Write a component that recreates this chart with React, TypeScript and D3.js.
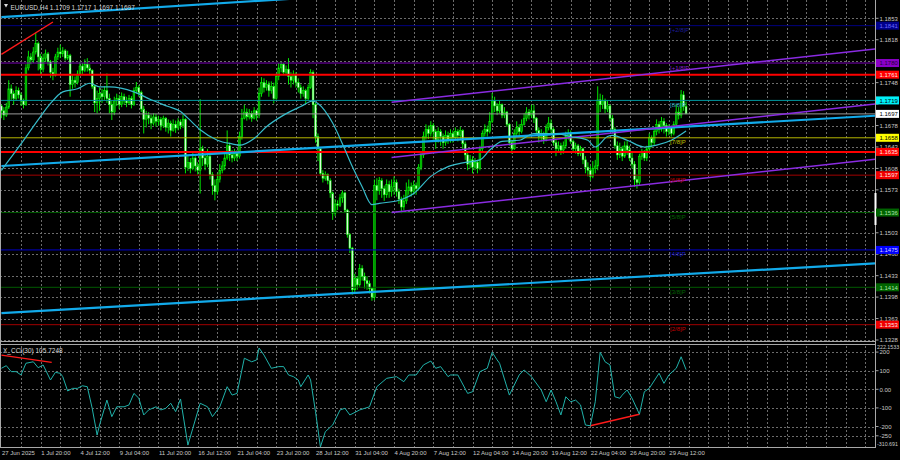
import * as d3 from "d3";

// ---------- price data (EURUSD H4), one value per bar ----------
const firstOpen = 1.171;

// closes, bars 0..279
const closes = [
  1.1702, 1.1695, 1.1708, 1.1738, 1.1730, 1.1722, 1.1735, 1.1728, 1.1718, 1.1712,
  1.1772, 1.1790, 1.1785, 1.1798, 1.1812, 1.1790, 1.1770, 1.1788, 1.1795, 1.1782,
  1.1765, 1.1760, 1.1790, 1.1798, 1.1795, 1.1800, 1.1788, 1.1792, 1.1745, 1.1752,
  1.1748, 1.1762, 1.1775, 1.1768, 1.1778, 1.1772, 1.1768, 1.1742, 1.1715, 1.1722,
  1.1730, 1.1725, 1.1735, 1.1722, 1.1712, 1.1700, 1.1718, 1.1722, 1.1712, 1.1725,
  1.1718, 1.1715, 1.1722, 1.1712, 1.1735, 1.1740, 1.1732, 1.1705, 1.1688, 1.1695,
  1.1690, 1.1682, 1.1692, 1.1685, 1.1688, 1.1678, 1.1690, 1.1675, 1.1682, 1.1670,
  1.1680, 1.1674, 1.1684, 1.1678, 1.1688, 1.1610, 1.1618, 1.1608, 1.1625, 1.1612,
  1.1605, 1.1640, 1.1625, 1.1615, 1.1628, 1.1598, 1.1580, 1.1570, 1.1590, 1.1605,
  1.1612, 1.1625, 1.1645, 1.1630, 1.1625, 1.1632, 1.1628, 1.1660, 1.1690, 1.1700,
  1.1692, 1.1698, 1.1690, 1.1702, 1.1695, 1.1730, 1.1748, 1.1740, 1.1745, 1.1735,
  1.1742, 1.1722, 1.1758, 1.1772, 1.1778, 1.1765, 1.1770, 1.1758, 1.1752, 1.1762,
  1.1748, 1.1740, 1.1730, 1.1735, 1.1722, 1.1740, 1.1765, 1.1712, 1.1660, 1.1640,
  1.1600, 1.1592, 1.1598, 1.1588, 1.1568, 1.1535, 1.1550, 1.1548, 1.1560, 1.1568,
  1.1540, 1.1500, 1.1478, 1.1410, 1.1428, 1.1418, 1.1445, 1.1432, 1.1425, 1.1420,
  1.1412, 1.1398, 1.1580, 1.1572, 1.1588, 1.1575, 1.1565, 1.1582, 1.1570, 1.1578,
  1.1585, 1.1570, 1.1558, 1.1545, 1.1555, 1.1572, 1.1578, 1.1570, 1.1580, 1.1575,
  1.1610, 1.1630, 1.1660, 1.1672, 1.1665, 1.1678, 1.1668, 1.1655, 1.1668, 1.1660,
  1.1650, 1.1662, 1.1655, 1.1665, 1.1658, 1.1668, 1.1662, 1.1670, 1.1648, 1.1630,
  1.1615, 1.1622, 1.1610, 1.1618, 1.1608, 1.1640, 1.1665, 1.1672, 1.1668, 1.1685,
  1.1718, 1.1710, 1.1702, 1.1712, 1.1695, 1.1700, 1.1680, 1.1650, 1.1640, 1.1665,
  1.1675, 1.1668, 1.1680, 1.1690, 1.1700, 1.1695, 1.1702, 1.1690, 1.1670, 1.1660,
  1.1665, 1.1655, 1.1675, 1.1682, 1.1672, 1.1650, 1.1640, 1.1645, 1.1638, 1.1645,
  1.1660, 1.1665, 1.1652, 1.1640, 1.1645, 1.1632, 1.1640, 1.1622, 1.1610, 1.1605,
  1.1595, 1.1608, 1.1612, 1.1720, 1.1712, 1.1718, 1.1705, 1.1710, 1.1690, 1.1672,
  1.1645, 1.1630, 1.1640, 1.1628, 1.1645, 1.1638, 1.1625, 1.1615, 1.1590, 1.1585,
  1.1628, 1.1635, 1.1625, 1.1640, 1.1658, 1.1650, 1.1668, 1.1680, 1.1672, 1.1685,
  1.1678, 1.1668, 1.1675, 1.1665, 1.1680, 1.1700, 1.1695, 1.1728, 1.1709, 1.1697,
];

const highs = [
  1.1712, 1.1708, 1.1715, 1.1752, 1.1745, 1.1735, 1.1742, 1.1740, 1.1732, 1.1722,
  1.1778, 1.1800, 1.1796, 1.1806, 1.1829, 1.1815, 1.1795, 1.1795, 1.1802, 1.1798,
  1.1785, 1.1772, 1.1795, 1.1805, 1.1810, 1.1806, 1.1803, 1.1800, 1.1795, 1.1760,
  1.1758, 1.1768, 1.1782, 1.1780, 1.1786, 1.1788, 1.1778, 1.1770, 1.1745, 1.1735,
  1.1740, 1.1738, 1.1742, 1.1763, 1.1730, 1.1718, 1.1725, 1.1730, 1.1728, 1.1732,
  1.1730, 1.1725, 1.1728, 1.1726, 1.1740, 1.1749, 1.1744, 1.1735, 1.1710, 1.1702,
  1.1700, 1.1696, 1.1698, 1.1697, 1.1694, 1.1692, 1.1694, 1.1692, 1.1688, 1.1686,
  1.1688, 1.1686, 1.1690, 1.1688, 1.1695, 1.1690, 1.1630, 1.1625, 1.1633, 1.1628,
  1.1618, 1.1721, 1.1645, 1.1632, 1.1640, 1.1630, 1.1602, 1.1590, 1.1600, 1.1615,
  1.1620, 1.1632, 1.1670, 1.1650, 1.1638, 1.1640, 1.1638, 1.1668, 1.1705, 1.1712,
  1.1706, 1.1705, 1.1702, 1.1708, 1.1704, 1.1740, 1.1757, 1.1755, 1.1752, 1.1750,
  1.1750, 1.1748, 1.1763, 1.1780, 1.1782, 1.1780, 1.1776, 1.1788, 1.1765, 1.1768,
  1.1765, 1.1755, 1.1745, 1.1742, 1.1738, 1.1745, 1.1770, 1.1768, 1.1715, 1.1665,
  1.1640, 1.1605, 1.1603, 1.1600, 1.1592, 1.1570, 1.1558, 1.1556, 1.1566, 1.1572,
  1.1570, 1.1542, 1.1502, 1.1480, 1.1436, 1.1432, 1.1452, 1.1450, 1.1438, 1.1432,
  1.1425, 1.1412, 1.1590, 1.1592, 1.1594, 1.1592, 1.1580, 1.1590, 1.1588, 1.1590,
  1.1595, 1.1590, 1.1575, 1.1562, 1.1565, 1.1585, 1.1590, 1.1585, 1.1588, 1.1585,
  1.1615, 1.1635, 1.1668, 1.1680, 1.1678, 1.1685, 1.1682, 1.1672, 1.1675, 1.1672,
  1.1665, 1.1670, 1.1668, 1.1672, 1.1670, 1.1675, 1.1672, 1.1676, 1.1672, 1.1652,
  1.1635, 1.1630, 1.1628, 1.1625, 1.1622, 1.1645, 1.1670, 1.1680, 1.1678, 1.1700,
  1.1731, 1.1725, 1.1715, 1.1718, 1.1714, 1.1708, 1.1702, 1.1682, 1.1655, 1.1672,
  1.1685, 1.1680, 1.1688, 1.1698, 1.1708, 1.1705, 1.1712, 1.1712, 1.1692, 1.1675,
  1.1672, 1.1668, 1.1680, 1.1692, 1.1688, 1.1675, 1.1655, 1.1652, 1.1650, 1.1652,
  1.1668, 1.1672, 1.1670, 1.1655, 1.1650, 1.1648, 1.1645, 1.1642, 1.1628, 1.1618,
  1.1612, 1.1620, 1.1622, 1.1742, 1.1730, 1.1728, 1.1722, 1.1718, 1.1712, 1.1695,
  1.1675, 1.1652, 1.1650, 1.1645, 1.1652, 1.1654, 1.1645, 1.1635, 1.1620, 1.1598,
  1.1632, 1.1640, 1.1638, 1.1645, 1.1665, 1.1662, 1.1672, 1.1688, 1.1685, 1.1692,
  1.1690, 1.1682, 1.1680, 1.1678, 1.1685, 1.1712, 1.1708, 1.1736, 1.1734, 1.1717,
];

const lows = [
  1.1690, 1.1687, 1.1692, 1.1705, 1.1720, 1.1712, 1.1718, 1.1722, 1.1710, 1.1706,
  1.1710, 1.1768, 1.1778, 1.1780, 1.1794, 1.1768, 1.1762, 1.1765, 1.1782, 1.1776,
  1.1756, 1.1752, 1.1758, 1.1785, 1.1788, 1.1790, 1.1784, 1.1785, 1.1725, 1.1738,
  1.1740, 1.1745, 1.1760, 1.1762, 1.1765, 1.1766, 1.1760, 1.1738, 1.1700, 1.1698,
  1.1702, 1.1715, 1.1720, 1.1715, 1.1698, 1.1687, 1.1695, 1.1710, 1.1705, 1.1708,
  1.1712, 1.1708, 1.1712, 1.1706, 1.1710, 1.1730, 1.1725, 1.1700, 1.1665, 1.1675,
  1.1680, 1.1672, 1.1678, 1.1676, 1.1678, 1.1670, 1.1674, 1.1668, 1.1665, 1.1660,
  1.1668, 1.1666, 1.1670, 1.1672, 1.1674, 1.1600, 1.1604, 1.1600, 1.1605, 1.1603,
  1.1598, 1.1567, 1.1612, 1.1605, 1.1610, 1.1590, 1.1565, 1.1556, 1.1565, 1.1585,
  1.1600, 1.1605, 1.1622, 1.1620, 1.1618, 1.1620, 1.1620, 1.1624, 1.1655, 1.1688,
  1.1686, 1.1688, 1.1684, 1.1688, 1.1686, 1.1690, 1.1725, 1.1732, 1.1735, 1.1725,
  1.1730, 1.1714, 1.1720, 1.1752, 1.1765, 1.1760, 1.1760, 1.1745, 1.1740, 1.1745,
  1.1740, 1.1732, 1.1722, 1.1725, 1.1714, 1.1718, 1.1738, 1.1690, 1.1650, 1.1620,
  1.1596, 1.1585, 1.1588, 1.1582, 1.1560, 1.1524, 1.1530, 1.1540, 1.1545, 1.1552,
  1.1535, 1.1495, 1.1470, 1.1402, 1.1404, 1.1410, 1.1415, 1.1425, 1.1412, 1.1410,
  1.1404, 1.1392, 1.1393, 1.1556, 1.1565, 1.1560, 1.1555, 1.1560, 1.1560, 1.1562,
  1.1565, 1.1562, 1.1550, 1.1535, 1.1540, 1.1550, 1.1565, 1.1562, 1.1565, 1.1565,
  1.1572, 1.1605, 1.1625, 1.1655, 1.1656, 1.1660, 1.1655, 1.1640, 1.1650, 1.1645,
  1.1640, 1.1645, 1.1648, 1.1650, 1.1650, 1.1655, 1.1652, 1.1655, 1.1640, 1.1622,
  1.1605, 1.1608, 1.1600, 1.1605, 1.1600, 1.1605, 1.1635, 1.1660, 1.1660, 1.1665,
  1.1682, 1.1700, 1.1695, 1.1698, 1.1690, 1.1690, 1.1676, 1.1645, 1.1632, 1.1638,
  1.1660, 1.1660, 1.1665, 1.1678, 1.1685, 1.1688, 1.1690, 1.1682, 1.1665, 1.1650,
  1.1652, 1.1648, 1.1652, 1.1670, 1.1666, 1.1645, 1.1628, 1.1635, 1.1630, 1.1632,
  1.1640, 1.1655, 1.1648, 1.1635, 1.1632, 1.1628, 1.1628, 1.1615, 1.1600, 1.1595,
  1.1588, 1.1592, 1.1600, 1.1605, 1.1700, 1.1705, 1.1698, 1.1700, 1.1685, 1.1665,
  1.1640, 1.1622, 1.1625, 1.1620, 1.1625, 1.1630, 1.1620, 1.1608, 1.1578, 1.1575,
  1.1580, 1.1622, 1.1620, 1.1620, 1.1635, 1.1642, 1.1645, 1.1662, 1.1665, 1.1668,
  1.1665, 1.1660, 1.1662, 1.1660, 1.1662, 1.1676, 1.1688, 1.1690, 1.1702, 1.1697,
];

// moving average, read at selected bars
const maBars = [
  0, 8, 16, 20, 25, 31, 36, 40, 44, 54, 61, 68, 73, 76, 81, 88, 94, 97, 103, 108,
  115, 122, 127, 129, 135, 139, 143, 147, 151, 154, 162, 168, 175, 182, 188, 195, 199, 204, 211, 217,
  225, 232, 239, 242, 247, 249, 255, 262, 267, 273, 279,
];
const maValues = [
  1.1605, 1.1648, 1.1693, 1.1714, 1.1733, 1.1738, 1.1747, 1.1741, 1.1741, 1.1733,
  1.172, 1.1709, 1.1701, 1.169, 1.1671, 1.1654, 1.1648, 1.1646, 1.1657, 1.1676,
  1.1695, 1.1709, 1.1718, 1.1714, 1.1682, 1.1648, 1.1611, 1.1578, 1.1549, 1.1551,
  1.1556, 1.1567, 1.1595, 1.1611, 1.1617, 1.1622, 1.1638, 1.1652, 1.1654, 1.1665,
  1.1665, 1.166, 1.1654, 1.1643, 1.166, 1.1662, 1.1654, 1.1643, 1.1646, 1.1654, 1.1669,
];

// CCI(30), read at selected bars
const cciBars = [
  0, 2, 4, 6, 8, 10, 13, 15, 17, 20, 22, 24, 25, 27, 29, 31, 33, 35, 37, 39,
  40, 43, 45, 47, 50, 52, 54, 56, 58, 60, 63, 65, 67, 69, 71, 73, 76, 78, 81, 84,
  86, 89, 92, 94, 96, 99, 102, 104, 105, 107, 110, 113, 115, 117, 119, 121, 122, 125, 126, 128,
  130, 132, 135, 138, 140, 142, 146, 150, 153, 157, 161, 164, 166, 169, 172, 175, 177, 179, 182, 183,
  186, 190, 192, 195, 198, 200, 202, 203, 207, 211, 213, 216, 220, 222, 224, 226, 228, 230, 232, 234,
  236, 238, 240, 242, 244, 246, 248, 250, 252, 253, 255, 257, 260, 262, 264, 268, 270, 272, 275, 277,
  279,
];
const cciValues = [
  113, 127, 95, 95, 77, 140, 148, 116, 131, 50, 91, 86, 68, -9, 5, 5, 19, 14, -102, -246,
  -192, -58, -147, -94, -94, -84, -22, -48, -138, -111, -94, -111, -102, -75, -120, -52, -300, -210, -75, -94,
  -147, -94, 14, -31, -22, 167, 148, 158, 222, 184, 113, 122, 122, 77, 68, 50, 14, 77, 50, -120,
  -310, -228, -192, -111, -102, -138, -111, -94, 14, 59, 68, 41, 77, 77, 131, 152, 113, 122, 68, 77,
  77, -22, -13, 95, 113, 199, 158, 140, -31, 77, 104, 68, -4, -67, -4, -67, -138, -40, -67, -58,
  -84, -192, -196, -67, 199, 148, 131, -40, -48, -31, -4, -48, -134, -13, 5, 86, 32, 77, 113, 175,
  105.72,
];

// levels and drawn objects
const murrayNames = ["[+2/8]P", "[+1/8]P", "[8/8]P", "[7/8]P", "[6/8]P", "[5/8]P", "[4/8]P", "[3/8]P", "[2/8]P"];
const murrayPrices = [1.1841, 1.178, 1.1719, 1.1658, 1.1597, 1.1536, 1.1475, 1.1414, 1.1353];
const srPrices = [1.1761, 1.1635];
const lastPrice = 1.1697;
const lastBar = { o: 1.1709, h: 1.1717, l: 1.1697, c: 1.1697 };
const cciLast = 105.7248;

const blueLineBars = [0, 356];
const blueLinesPrices = [
  [1.1855, 1.1945],
  [1.1612, 1.1694],
  [1.1372, 1.1453],
];
const purpleBars = [159, 356];
const purplePrices = [
  [1.1716, 1.1803],
  [1.1626, 1.1713],
  [1.1536, 1.1623],
];
const redLineBars = [0, 21];
const redLinePrices = [1.1794, 1.1847];
const cciRedBars = [[0, 20.5], [240, 260]];
const cciRedValues = [[184, 145], [-196, -134]];

const priceTicks = [1.1853, 1.1818, 1.1783, 1.1748, 1.1713, 1.1678, 1.1643, 1.1608, 1.1573, 1.1538, 1.1503, 1.1468, 1.1433, 1.1398, 1.1363, 1.1328];
const cciTicks = [200, 100, 0, -100, -200, -250];
const cciTickLabels = ["200", "100", "0.00", "-100", "-200", "-250"];
const cciMax = "222.1533";
const cciMin = "-310.691";
const timeLabels = [
  "27 Jun 2025", "1 Jul 20:00", "4 Jul 12:00", "9 Jul 04:00", "11 Jul 20:00", "16 Jul 12:00",
  "21 Jul 04:00", "23 Jul 20:00", "28 Jul 12:00", "31 Jul 04:00", "4 Aug 20:00", "7 Aug 12:00",
  "12 Aug 04:00", "14 Aug 20:00", "19 Aug 12:00", "22 Aug 04:00", "26 Aug 20:00", "29 Aug 12:00",
];

// ---------- styles ----------
const murrayLine = ["#000080", "#7a00b8", "#00979f", "#b4b400", "#a00000", "#005a00", "#0000c8", "#005a00", "#a00000"];
const murrayText = ["#1c1c9c", "#8a22cc", "#2aa6c0", "#c0c000", "#c00000", "#006400", "#1818d0", "#006400", "#c00000"];
const murrayBox = ["#00008b", "#8a00c8", "#00f0f8", "#ffff00", "#f00000", "#006400", "#0000ff", "#006400", "#f00000"];
const murrayBoxText = ["#6a6aff", "#260038", "#000", "#000", "#ffe4e4", "#a8e0a8", "#d0d0ff", "#a8e0a8", "#ffe4e4"];

const FONT = "'Liberation Sans', Arial, sans-serif";
const AXIS_TEXT = "#c8c8c8";
const GRID = "#6c6c6c";
const AXIS_X = 875.5;
const MAIN_BOTTOM = 341.5;
const CCI_TOP = 344.5;
const CCI_BOTTOM = 447.5;

const x = d3.scaleLinear().domain([0, 356]).range([1.4, 875]);
const yP = d3.scaleLinear().domain([1.1328, 1.1853]).range([340, 18.3]);
const yC = d3.scaleLinear().domain([-250, 200]).range([435.8, 352.1]);

export default function App() {
  const candles = closes.map((c, i) => ({
    i,
    o: i === 0 ? firstOpen : closes[i - 1],
    h: highs[i],
    l: lows[i],
    c,
  }));

  const maLine = d3
    .line<number>()
    .x((_, k) => x(maBars[k]))
    .y((v) => yP(v))
    .curve(d3.curveMonotoneX);

  const cciLine = d3
    .line<number>()
    .x((_, k) => x(cciBars[k]))
    .y((v) => yC(v));

  const gridBars = d3.range(8, 356, 8);

  const boxes = [
    ...murrayPrices.map((p, k) => ({ p, bg: murrayBox[k], fg: murrayBoxText[k] })),
    ...srPrices.map((p) => ({ p, bg: "#ff0000", fg: "#ffe4e4" })),
    { p: lastPrice, bg: "#ffffff", fg: "#000" },
  ];

  // plain tick labels hidden behind a coloured price box are skipped
  const freeTicks = priceTicks.filter(
    (p) => !boxes.some((b) => Math.abs(yP(b.p) - yP(p)) < 4.2)
  );

  const txt = { fontFamily: FONT, fontSize: 6 } as const;

  return (
    <svg
      width={900}
      height={460}
      style={{ position: "fixed", left: 0, top: 0, display: "block" }}
    >
      <defs>
        <clipPath id="mainClip">
          <rect x={0} y={0} width={875} height={341} />
        </clipPath>
        <clipPath id="cciClip">
          <rect x={0} y={345} width={875} height={102} />
        </clipPath>
      </defs>
      <rect x={0} y={0} width={900} height={460} fill="#000" />

      {/* grid */}
      <g stroke={GRID} strokeWidth={1} strokeDasharray="2,2" shapeRendering="crispEdges">
        {gridBars.map((b) => (
          <g key={b}>
            <line x1={Math.round(x(b)) + 0.5} x2={Math.round(x(b)) + 0.5} y1={0} y2={MAIN_BOTTOM - 1} />
            <line x1={Math.round(x(b)) + 0.5} x2={Math.round(x(b)) + 0.5} y1={CCI_TOP + 1} y2={CCI_BOTTOM - 1} />
          </g>
        ))}
        {priceTicks.map((p) => (
          <line key={p} x1={0} x2={875} y1={Math.round(yP(p)) + 0.5} y2={Math.round(yP(p)) + 0.5} />
        ))}
        {cciTicks.map((v) => (
          <line key={v} x1={0} x2={875} y1={Math.round(yC(v)) + 0.5} y2={Math.round(yC(v)) + 0.5} />
        ))}
      </g>

      {/* main panel */}
      <g clipPath="url(#mainClip)">
        {candles.map((d) => {
          const cx = x(d.i);
          const up = d.c >= d.o;
          const top = yP(Math.max(d.o, d.c));
          const bot = yP(Math.min(d.o, d.c));
          return (
            <g key={d.i}>
              <line x1={cx} x2={cx} y1={yP(d.h)} y2={yP(d.l)} stroke="#00ff00" strokeWidth={0.9} />
              <rect
                x={cx - 0.9}
                y={top}
                width={1.8}
                height={Math.max(0.8, bot - top)}
                fill={up ? "#009600" : "#d8ffd8"}
                stroke="#00ff00"
                strokeWidth={0.5}
              />
            </g>
          );
        })}

        {murrayPrices.map((p, k) => (
          <line key={p} x1={0} x2={875} y1={yP(p)} y2={yP(p)} stroke={murrayLine[k]} strokeWidth={1} />
        ))}
        <line x1={0} x2={875} y1={yP(lastPrice)} y2={yP(lastPrice)} stroke="#9a9a9a" strokeWidth={1} />
        {srPrices.map((p) => (
          <line key={p} x1={0} x2={875} y1={yP(p)} y2={yP(p)} stroke="#ff0000" strokeWidth={2} />
        ))}

        {blueLinesPrices.map((pp, k) => (
          <line
            key={k}
            x1={x(blueLineBars[0])}
            x2={x(blueLineBars[1])}
            y1={yP(pp[0])}
            y2={yP(pp[1])}
            stroke="#12aaea"
            strokeWidth={2.2}
          />
        ))}
        {purplePrices.map((pp, k) => (
          <line
            key={k}
            x1={x(purpleBars[0])}
            x2={x(purpleBars[1])}
            y1={yP(pp[0])}
            y2={yP(pp[1])}
            stroke="#8a2be2"
            strokeWidth={1.5}
          />
        ))}
        <line
          x1={x(redLineBars[0])}
          x2={x(redLineBars[1])}
          y1={yP(redLinePrices[0])}
          y2={yP(redLinePrices[1])}
          stroke="#ff1a1a"
          strokeWidth={1.4}
        />
        <path d={maLine(maValues) ?? ""} fill="none" stroke="#36bccb" strokeWidth={1.2} />

        {murrayNames.map((n, k) => (
          <text key={n} x={x(272.5)} y={yP(murrayPrices[k]) + 6.5} fill={murrayText[k]} {...txt}>
            {n}
          </text>
        ))}
      </g>

      {/* title */}
      <path d="M4,4 L8,4 L6,7.5 Z" fill="#d8d8d8" />
      <text x={10.5} y={9.5} fill="#d8d8d8" fontFamily={FONT} fontSize={6.5}>
        {`EURUSD,H4  ${lastBar.o.toFixed(4)} ${lastBar.h.toFixed(4)} ${lastBar.l.toFixed(4)} ${lastBar.c.toFixed(4)}`}
      </text>

      {/* CCI panel */}
      <g clipPath="url(#cciClip)">
        {cciRedBars.map((bb, k) => (
          <line
            key={k}
            x1={x(bb[0])}
            x2={x(bb[1])}
            y1={yC(cciRedValues[k][0])}
            y2={yC(cciRedValues[k][1])}
            stroke="#ff1a1a"
            strokeWidth={1.4}
          />
        ))}
        <path d={cciLine(cciValues) ?? ""} fill="none" stroke="#20b2aa" strokeWidth={1} />
      </g>
      <text x={3} y={352.5} fill="#d8d8d8" fontFamily={FONT} fontSize={6.5}>
        {`X_CCI(30) ${cciLast}`}
      </text>

      {/* frame */}
      <g stroke="#a8a8a8" strokeWidth={1} shapeRendering="crispEdges">
        <line x1={0.5} x2={0.5} y1={0} y2={CCI_BOTTOM} />
        <line x1={AXIS_X} x2={AXIS_X} y1={0} y2={CCI_BOTTOM} />
        <line x1={0} x2={AXIS_X} y1={MAIN_BOTTOM} y2={MAIN_BOTTOM} />
        <line x1={0} x2={AXIS_X} y1={CCI_TOP} y2={CCI_TOP} />
        <line x1={0} x2={AXIS_X} y1={CCI_BOTTOM} y2={CCI_BOTTOM} />
      </g>
      <rect x={874.5} y={193} width={2} height={32} fill="#ffffff" />

      {/* price axis */}
      {priceTicks.map((p) => (
        <line key={p} x1={876} x2={878.5} y1={yP(p)} y2={yP(p)} stroke={AXIS_TEXT} strokeWidth={0.8} />
      ))}
      {freeTicks.map((p) => (
        <text key={p} x={879.5} y={yP(p) + 2.2} fill={AXIS_TEXT} {...txt}>
          {p.toFixed(4)}
        </text>
      ))}
      {boxes.map((b) => (
        <g key={b.p}>
          <rect x={876} y={yP(b.p) - 4} width={23} height={8} fill={b.bg} />
          <text x={879.5} y={yP(b.p) + 2.2} fill={b.fg} {...txt}>
            {b.p.toFixed(4)}
          </text>
        </g>
      ))}

      {/* CCI axis */}
      {cciTicks.map((v, k) => (
        <g key={v}>
          <line x1={876} x2={878.5} y1={yC(v)} y2={yC(v)} stroke={AXIS_TEXT} strokeWidth={0.8} />
          <text x={879.5} y={yC(v) + 2.2} fill={AXIS_TEXT} {...txt}>
            {cciTickLabels[k]}
          </text>
        </g>
      ))}
      <text x={877} y={349.2} fill={AXIS_TEXT} fontFamily={FONT} fontSize={5.3}>
        {cciMax}
      </text>
      <text x={877} y={445.5} fill={AXIS_TEXT} fontFamily={FONT} fontSize={5.3}>
        {cciMin}
      </text>

      {/* time axis */}
      {timeLabels.map((t, k) => (
        <text key={t} x={x(k * 16) + 0.5} y={455} fill={AXIS_TEXT} {...txt}>
          {t}
        </text>
      ))}
    </svg>
  );
}
